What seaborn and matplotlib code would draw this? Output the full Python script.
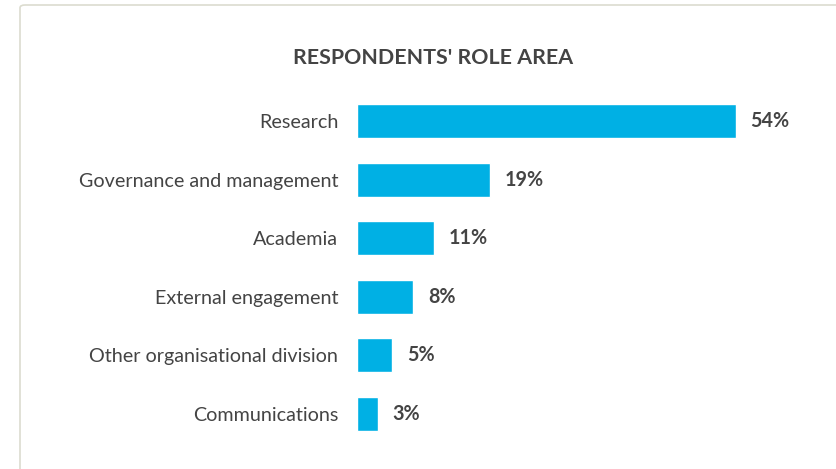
import pandas as pd
import matplotlib.pyplot as plt
import seaborn as sns
from matplotlib.patches import FancyBboxPatch

roles = ['Research', 'Governance and management', 'Academia', 'External engagement',
         'Other organisational division', 'Communications']
shares = [54, 19, 11, 8, 5, 3]

df = pd.DataFrame({'role': roles, 'share': shares})

sns.set_style('white')
plt.rcParams['font.family'] = ['Lato', 'DejaVu Sans']

fig = plt.figure(figsize=(8.36, 4.69), dpi=100)
ax = fig.add_axes([357 / 836, 0.0548, (778 - 357) / 836, 0.8045 - 0.0548])

sns.barplot(data=df, y='role', x='share', color='#00b0e4', width=0.58, ax=ax,
            saturation=1, orient='h')
ax.set_xlim(0, 60)
ax.set_ylim(5.5, -0.5)
ax.set_xlabel('')
ax.set_ylabel('')
ax.set_xticks([])
ax.tick_params(axis='y', length=0, pad=13.5, labelsize=14.2, labelcolor='#444444')
sns.despine(ax=ax, left=True, bottom=True)

for i, v in enumerate(shares):
    ax.text(v + 2.1, i, f'{v}%', va='center', ha='left', fontsize=14.2,
            fontweight='bold', color='#444444')

fig.text(433 / 836, 1 - 58 / 469, "RESPONDENTS' ROLE AREA", ha='center', va='center',
         fontsize=15.4, fontweight='bold', color='#444444')

# light frame around the card
frame = FancyBboxPatch((20 / 836, -0.1), 1.0, 1 - 5 / 469 + 0.1,
                       boxstyle='round,pad=0,rounding_size=0.006',
                       transform=fig.transFigure, fill=False,
                       edgecolor='#dcdccf', linewidth=1.2)
fig.patches.append(frame)

fig.savefig('out.png', dpi=100)
